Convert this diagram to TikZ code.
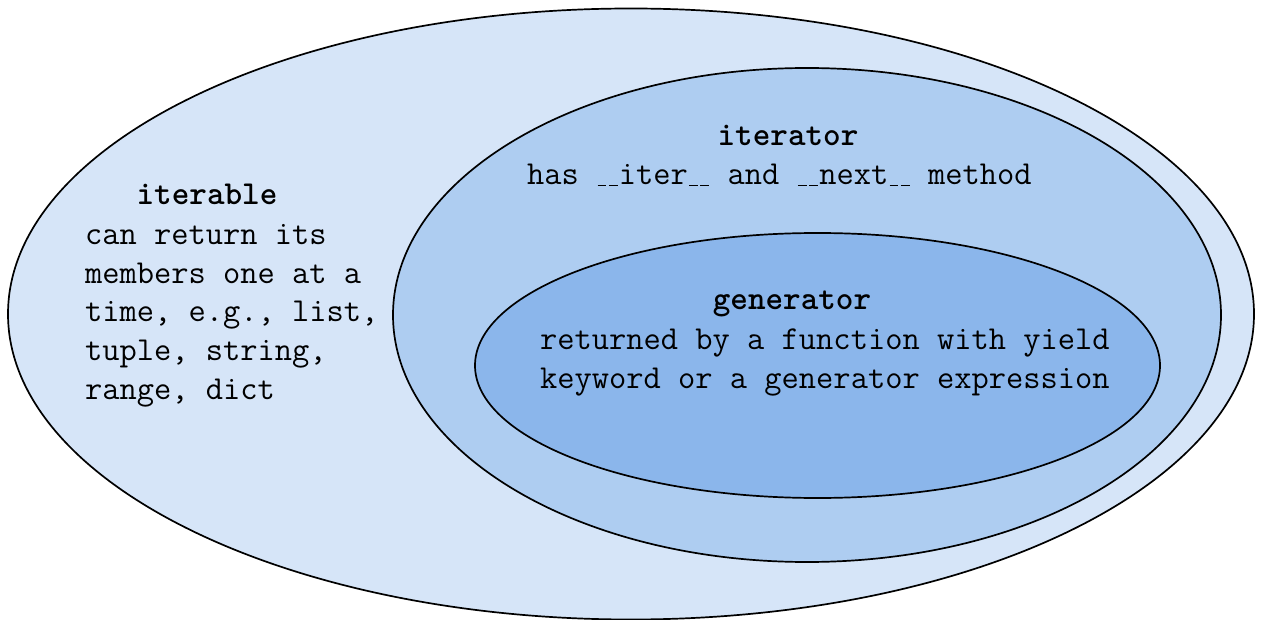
\documentclass[tikz,border=0pt]{standalone}
\usepackage{fontspec}
\usetikzlibrary{shapes.geometric}
\definecolor{outerfill}{HTML}{D6E5F8}
\definecolor{midfill}{HTML}{AECDF1}
\definecolor{innerfill}{HTML}{8BB6EB}
% narrow underscore used in the dunder method names
\newcommand\uscore{\hbox to 11.3pt{\hss\rule[-1.5pt]{8.7pt}{1.2pt}\hss}}

\begin{document}
\begin{tikzpicture}[x=1pt,y=-1pt,
  setshape/.style={ellipse, draw=black, line width=1.7pt, inner sep=0pt},
  settitle/.style={font=\ttfamily\bfseries\fontsize{33.5}{38}\selectfont, inner sep=0pt, anchor=base},
  setbody/.style={font=\ttfamily\fontsize{33.5}{38}\selectfont, inner sep=0pt, anchor=base west}]
\useasboundingbox (0,0) rectangle (1261,620);

% nested sets
\node[setshape, fill=outerfill, minimum width=1246pt, minimum height=611pt] (iterable) at (631,314) {};
\node[setshape, fill=midfill, minimum width=828pt, minimum height=494pt] (iterator) at (807,315) {};
\node[setshape, fill=innerfill, minimum width=685pt, minimum height=265pt] (generator) at (817.5,365.5) {};

% iterable
\node[settitle] (itbltitle) at (207,205) {iterable};
\node[setbody] (itbl1) at (85,245) {can return its};
\node[setbody] (itbl2) at (85,283.5) {members one at a};
\node[setbody] (itbl3) at (85,322) {time, e.g., list,};
\node[setbody] (itbl4) at (85,360.5) {tuple, string,};
\node[setbody] (itbl5) at (85,399) {range, dict};

% iterator
\node[settitle] (itortitle) at (788,146) {iterator};
\node[setbody] (itor1) at (527,185) {has \uscore\uscore iter\uscore\uscore{} and \uscore\uscore next\uscore\uscore{} method};

% generator
\node[settitle] (gentitle) at (792,309) {generator};
\node[setbody] (gen1) at (540,349) {returned by a function with yield};
\node[setbody] (gen2) at (540,388) {keyword or a generator expression};
\end{tikzpicture}
\end{document}
